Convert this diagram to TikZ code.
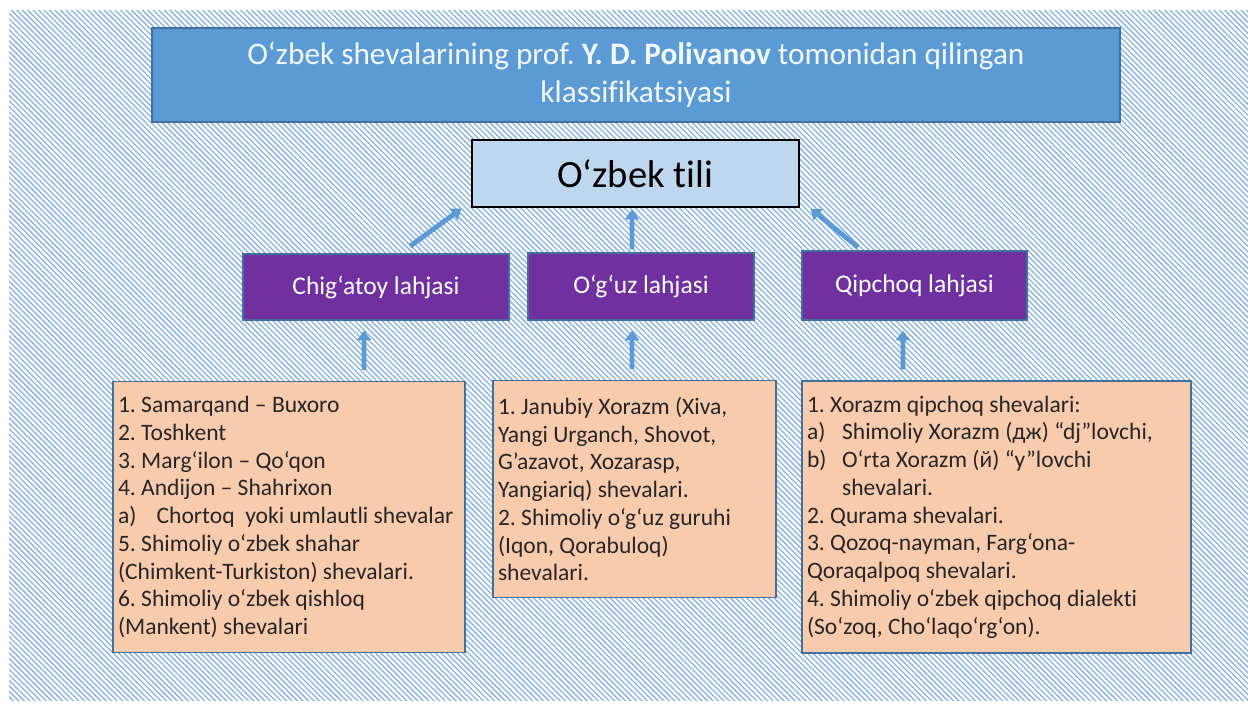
\documentclass[tikz,border=0pt]{standalone}
\usepackage{fontspec}
\setmainfont{Carlito}[Ligatures={TeX,NoCommon}]
\usetikzlibrary{positioning,arrows.meta,patterns.meta}
\definecolor{hatch}{RGB}{135,178,225}
\definecolor{titlebg}{RGB}{91,155,213}
\definecolor{edge}{RGB}{65,113,156}
\definecolor{langbg}{RGB}{189,215,238}
\definecolor{lahja}{RGB}{112,48,160}
\definecolor{peach}{RGB}{248,203,173}
\definecolor{txt}{RGB}{38,38,38}
\tikzset{
  blk/.style={draw=edge,line width=0.8pt,align=center,inner sep=0pt},
  ttl/.style={blk,fill=titlebg,text=white!92!titlebg,font=\fontsize{17.8}{21.5}\selectfont},
  lang/.style={blk,fill=langbg,draw=black,text=black,font=\fontsize{22}{26}\selectfont},
  lah/.style={blk,fill=lahja,text=white,font=\fontsize{14.5}{17}\selectfont},
  lst/.style={blk,fill=peach,text=txt,align=flush left,font=\fontsize{13.4}{15.8}\selectfont},
  ar/.style={-{Triangle[length=5.5pt,width=8pt]},line width=2.8pt,titlebg},
}
\frenchspacing

\begin{document}
\begin{tikzpicture}[x=0.02cm,y=-0.02cm]
  \useasboundingbox (0,0) rectangle (1248,704);
  \fill[pattern={Lines[angle=-45,distance=2.2pt,line width=0.75pt]},pattern color=hatch]
    (9,10) rectangle (1248,700);
  % title and root
  \node[ttl,minimum width=19.36cm,minimum height=1.88cm] (title) at (636,75)
    {O‘zbek shevalarining prof. \textbf{Y. D. Polivanov} tomonidan qilingan\\ klassifikatsiyasi};
  \node[lang,minimum width=6.54cm,minimum height=1.34cm] (tili) at (635.5,173.5) {O‘zbek tili};
  % dialects
  \node[lah,minimum width=5.32cm,minimum height=1.32cm] (chig) at (376,287) {Chig‘atoy lahjasi};
  \node[lah,minimum width=4.52cm,minimum height=1.34cm] (oguz) at (641,286.5) {O‘g‘uz lahjasi};
  \node[lah,minimum width=4.5cm,minimum height=1.38cm] (qip) at (914.5,285.5) {Qipchoq lahjasi};
  % lists
  \node[lst,minimum width=7.04cm,minimum height=5.42cm,text width=6.84cm] (chiglst) at (289,517)
    {1. Samarqand – Buxoro\\
     2. Toshkent\\
     3. Marg‘ilon – Qo‘qon\\
     4. Andijon – Shahrixon\\
     \makebox[22pt][l]{a)}Chortoq\ \ yoki umlautli shevalar\\
     5. Shimoliy o‘zbek shahar\\
     (Chimkent-Turkiston) shevalari.\\
     6. Shimoliy o‘zbek qishloq\\
     (Mankent) shevalari};
  \node[lst,minimum width=5.66cm,minimum height=4.34cm,text width=5.46cm] (oguzlst) at (634.5,489)
    {1. Janubiy Xorazm (Xiva,\\
     Yangi Urganch, Shovot,\\
     G’azavot, Xozarasp,\\
     Yangiariq) shevalari.\\
     2. Shimoliy o‘g‘uz guruhi\\
     (Iqon, Qorabuloq)\\
     shevalari.};
  \node[lst,minimum width=7.78cm,minimum height=5.44cm,text width=7.58cm] (qiplst) at (996.5,517)
    {1. Xorazm qipchoq shevalari:\\
     \makebox[20pt][l]{a)}Shimoliy Xorazm (дж) “dj”lovchi,\\
     \makebox[20pt][l]{b)}O‘rta Xorazm (й) “y”lovchi\\
     \hspace*{20pt}shevalari.\\
     2. Qurama shevalari.\\
     3. Qozoq-nayman, Farg‘ona-\\
     Qoraqalpoq shevalari.\\
     4. Shimoliy o‘zbek qipchoq dialekti\\
     (So‘zoq, Cho‘laqo‘rg‘on).};
  % arrows
  \draw[ar] ([xshift=0.68cm,yshift=0.14cm]chig.north) -- ([xshift=-0.2cm,yshift=-0.02cm]tili.south west);
  \draw[ar] ([xshift=-0.18cm,yshift=0.06cm]oguz.north) -- ([xshift=-0.07cm,yshift=-0.04cm]tili.south);
  \draw[ar] ([xshift=-1.13cm,yshift=0.06cm]qip.north) -- ([xshift=0.22cm,yshift=-0.02cm]tili.south east);
  \draw[ar] ([xshift=1.5cm,yshift=0.22cm]chiglst.north) -- ([xshift=-0.24cm,yshift=-0.2cm]chig.south);
  \draw[ar] ([xshift=-0.05cm,yshift=0.22cm]oguzlst.north) -- ([xshift=-0.18cm,yshift=-0.2cm]oguz.south);
  \draw[ar] ([xshift=-1.87cm,yshift=0.22cm]qiplst.north) -- ([xshift=-0.23cm,yshift=-0.2cm]qip.south);
\end{tikzpicture}
\end{document}
